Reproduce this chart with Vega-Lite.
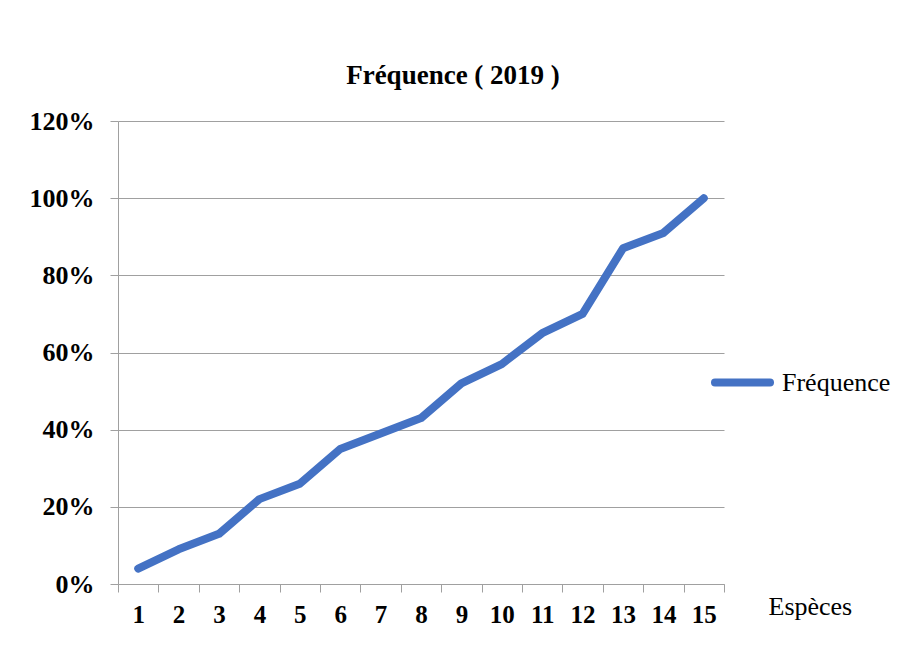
{
  "$schema": "https://vega.github.io/schema/vega-lite/v6.json",
  "width": 606,
  "height": 463,
  "autosize": {"type": "none"},
  "padding": {"left": 118, "top": 121, "right": 179, "bottom": 74},
  "background": "white",
  "title": {
    "text": "Fréquence ( 2019 )",
    "font": "Liberation Serif",
    "fontSize": 27,
    "fontWeight": "bold",
    "color": "black",
    "anchor": "middle",
    "dx": 32,
    "offset": 18
  },
  "data": {
    "values": [
      {"Espece": 1, "Frequence": 0.04, "Serie": "Fréquence"},
      {"Espece": 2, "Frequence": 0.09, "Serie": "Fréquence"},
      {"Espece": 3, "Frequence": 0.13, "Serie": "Fréquence"},
      {"Espece": 4, "Frequence": 0.22, "Serie": "Fréquence"},
      {"Espece": 5, "Frequence": 0.26, "Serie": "Fréquence"},
      {"Espece": 6, "Frequence": 0.35, "Serie": "Fréquence"},
      {"Espece": 7, "Frequence": 0.39, "Serie": "Fréquence"},
      {"Espece": 8, "Frequence": 0.43, "Serie": "Fréquence"},
      {"Espece": 9, "Frequence": 0.52, "Serie": "Fréquence"},
      {"Espece": 10, "Frequence": 0.57, "Serie": "Fréquence"},
      {"Espece": 11, "Frequence": 0.65, "Serie": "Fréquence"},
      {"Espece": 12, "Frequence": 0.70, "Serie": "Fréquence"},
      {"Espece": 13, "Frequence": 0.87, "Serie": "Fréquence"},
      {"Espece": 14, "Frequence": 0.91, "Serie": "Fréquence"},
      {"Espece": 15, "Frequence": 1.00, "Serie": "Fréquence"}
    ]
  },
  "mark": {"type": "line", "strokeWidth": 8, "strokeCap": "round", "strokeJoin": "round"},
  "encoding": {
    "x": {
      "field": "Espece",
      "type": "ordinal",
      "sort": null,
      "bandPosition": 0.5,
      "scale": {"type": "band", "paddingInner": 0, "paddingOuter": 0},
      "axis": {
        "title": "Espèces",
        "titleFont": "Liberation Serif",
        "titleFontSize": 26,
        "titleFontWeight": "normal",
        "titleColor": "black",
        "titleX": 650,
        "titleY": 30,
        "titleAlign": "left",
        "titleBaseline": "alphabetic",
        "labelAngle": 0,
        "labelFont": "Liberation Serif",
        "labelFontSize": 25,
        "labelFontWeight": "bold",
        "labelColor": "black",
        "labelPadding": 10,
        "tickBand": "extent",
        "tickSize": 8,
        "tickColor": "#a0a0a0",
        "domainColor": "#a0a0a0",
        "grid": false
      }
    },
    "y": {
      "field": "Frequence",
      "type": "quantitative",
      "scale": {"domain": [0, 1.2], "nice": false},
      "axis": {
        "title": null,
        "values": [0, 0.2, 0.4, 0.6, 0.8, 1.0, 1.2],
        "format": ".0%",
        "labelFont": "Liberation Serif",
        "labelFontSize": 26,
        "labelFontWeight": "bold",
        "labelColor": "black",
        "labelPadding": 16,
        "tickSize": 8,
        "tickColor": "#a0a0a0",
        "domainColor": "#a0a0a0",
        "grid": true,
        "gridColor": "#a0a0a0",
        "gridWidth": 1
      }
    },
    "color": {
      "field": "Serie",
      "type": "nominal",
      "scale": {"range": ["#4472C4"]},
      "legend": {
        "orient": "none",
        "legendX": 593,
        "legendY": 230,
        "title": null,
        "padding": 0,
        "symbolType": "stroke",
        "symbolSize": 3025,
        "symbolStrokeWidth": 8,
        "labelFont": "Liberation Serif",
        "labelFontSize": 26,
        "labelColor": "black",
        "labelOffset": 8,
        "encode": {"symbols": {"update": {"strokeCap": {"value": "round"}}}}
      }
    }
  },
  "config": {"view": {"stroke": null}}
}
